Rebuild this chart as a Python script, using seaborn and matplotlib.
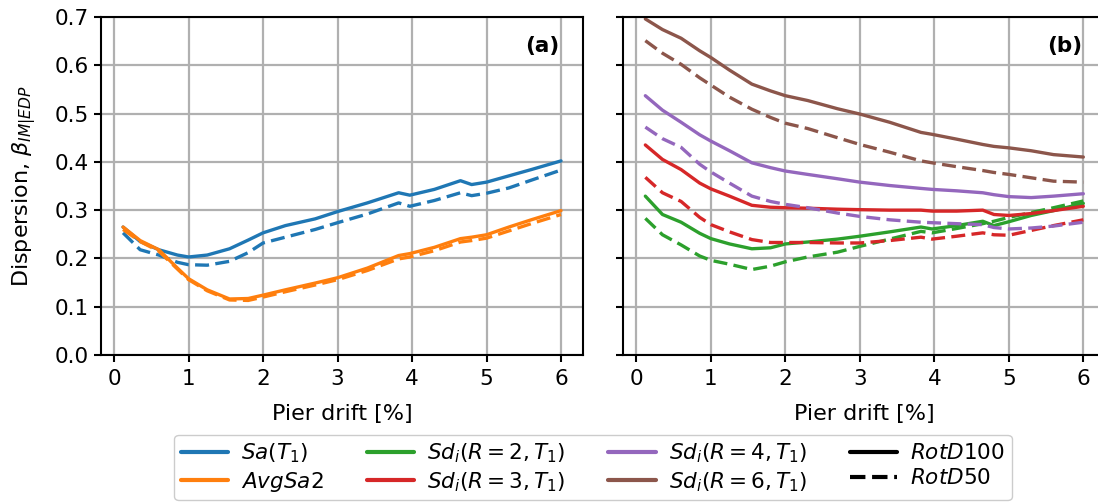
import numpy as np
import pandas as pd
import matplotlib
matplotlib.use("Agg")
import matplotlib.pyplot as plt
from matplotlib.lines import Line2D
import seaborn as sns

# ---------------- data ----------------
drift = [0.12, 0.35, 0.6, 0.85, 1.0, 1.25, 1.55, 1.8, 2.0, 2.3, 2.7, 3.0,
         3.4, 3.82, 3.97, 4.3, 4.65, 4.8, 5.0, 5.3, 5.6, 6.0]

sa_rotd100 = [0.265, 0.235, 0.218, 0.207, 0.203, 0.207, 0.220, 0.238, 0.253, 0.268, 0.282, 0.297,
              0.315, 0.336, 0.331, 0.343, 0.361, 0.353, 0.358, 0.371, 0.384, 0.402]
sa_rotd50 = [0.253, 0.218, 0.207, 0.192, 0.187, 0.186, 0.194, 0.212, 0.232, 0.244, 0.260, 0.274,
             0.292, 0.315, 0.308, 0.320, 0.336, 0.330, 0.335, 0.346, 0.362, 0.383]
avg_rotd100 = [0.265, 0.237, 0.218, 0.180, 0.158, 0.135, 0.116, 0.117, 0.124, 0.135, 0.149, 0.160,
               0.180, 0.206, 0.210, 0.223, 0.241, 0.244, 0.249, 0.265, 0.280, 0.299]
avg_rotd50 = [0.260, 0.235, 0.215, 0.178, 0.156, 0.133, 0.114, 0.113, 0.120, 0.131, 0.145, 0.156,
              0.175, 0.199, 0.203, 0.216, 0.234, 0.237, 0.242, 0.257, 0.272, 0.291]

r2_rotd100 = [0.329, 0.291, 0.275, 0.252, 0.241, 0.230, 0.220, 0.222, 0.230, 0.234, 0.240, 0.246,
              0.255, 0.265, 0.261, 0.268, 0.277, 0.268, 0.276, 0.289, 0.299, 0.314]
r2_rotd50 = [0.283, 0.249, 0.228, 0.205, 0.196, 0.188, 0.177, 0.184, 0.193, 0.203, 0.213, 0.225,
             0.240, 0.256, 0.253, 0.262, 0.272, 0.277, 0.285, 0.295, 0.305, 0.319]
r3_rotd100 = [0.435, 0.405, 0.384, 0.356, 0.344, 0.329, 0.310, 0.306, 0.305, 0.304, 0.302, 0.301,
              0.300, 0.300, 0.298, 0.298, 0.300, 0.291, 0.289, 0.293, 0.299, 0.308]
r3_rotd50 = [0.368, 0.336, 0.318, 0.285, 0.270, 0.255, 0.239, 0.233, 0.233, 0.233, 0.232, 0.232,
             0.237, 0.244, 0.240, 0.246, 0.253, 0.249, 0.248, 0.258, 0.268, 0.280]
r4_rotd100 = [0.537, 0.507, 0.482, 0.456, 0.443, 0.423, 0.398, 0.388, 0.381, 0.374, 0.365, 0.358,
              0.351, 0.345, 0.343, 0.340, 0.336, 0.332, 0.328, 0.326, 0.329, 0.334]
r4_rotd50 = [0.472, 0.448, 0.430, 0.395, 0.379, 0.356, 0.329, 0.318, 0.312, 0.305, 0.294, 0.287,
             0.280, 0.275, 0.274, 0.272, 0.270, 0.264, 0.261, 0.263, 0.267, 0.275]
r6_rotd100 = [0.696, 0.674, 0.656, 0.630, 0.616, 0.590, 0.561, 0.547, 0.537, 0.527, 0.510, 0.499,
              0.482, 0.461, 0.457, 0.447, 0.436, 0.432, 0.429, 0.423, 0.415, 0.410]
r6_rotd50 = [0.651, 0.625, 0.602, 0.574, 0.559, 0.534, 0.509, 0.492, 0.480, 0.469, 0.450, 0.436,
             0.420, 0.402, 0.398, 0.390, 0.382, 0.378, 0.374, 0.367, 0.360, 0.358]

im_labels = [r'$Sa(T_1)$', r'$AvgSa2$', r'$Sd_i(R=2,T_1)$', r'$Sd_i(R=3,T_1)$',
             r'$Sd_i(R=4,T_1)$', r'$Sd_i(R=6,T_1)$']
comp_labels = ['RotD100', 'RotD50']
colors = ['#1f77b4', '#ff7f0e', '#2ca02c', '#d62728', '#9467bd', '#8c564b']

panel_a = {im_labels[0]: (sa_rotd100, sa_rotd50), im_labels[1]: (avg_rotd100, avg_rotd50)}
panel_b = {im_labels[2]: (r2_rotd100, r2_rotd50), im_labels[3]: (r3_rotd100, r3_rotd50),
           im_labels[4]: (r4_rotd100, r4_rotd50), im_labels[5]: (r6_rotd100, r6_rotd50)}


def to_long(panel):
    rows = []
    for im, (v100, v50) in panel.items():
        for comp, vals in zip(comp_labels, (v100, v50)):
            for x, y in zip(drift, vals):
                rows.append({'drift': x, 'disp': y, 'IM': im, 'comp': comp})
    return pd.DataFrame(rows)


df_a = to_long(panel_a)
df_b = to_long(panel_b)

# ---------------- style ----------------
sns.set_theme(style='ticks', rc={
    'axes.grid': True,
    'grid.color': '#b0b0b0',
    'grid.linewidth': 1.6,
    'axes.edgecolor': 'black',
    'axes.linewidth': 1.5,
    'xtick.major.width': 1.5,
    'ytick.major.width': 1.5,
    'xtick.major.size': 5,
    'ytick.major.size': 5,
    'xtick.major.pad': 5,
    'xtick.color': 'black',
    'ytick.color': 'black',
    'xtick.labelsize': 15.5,
    'ytick.labelsize': 15.5,
    'axes.labelsize': 16,
    'axes.labelcolor': 'black',
    'text.color': 'black',
})
plt.rcParams['font.family'] = ['DejaVu Sans']
plt.rcParams['mathtext.fontset'] = 'dejavusans'

W, H = 1098, 503
fig = plt.figure(figsize=(W / 100, H / 100), dpi=100)
ax1 = fig.add_axes([100.7 / W, (H - 355) / H, 482.3 / W, 338 / H])
ax2 = fig.add_axes([623.0 / W, (H - 355) / H, 482.3 / W, 338 / H])

pal = dict(zip(im_labels, colors))
dashes = {'RotD100': '', 'RotD50': (4.2, 1.9)}

sns.lineplot(data=df_a, x='drift', y='disp', hue='IM', style='comp', palette=pal,
             dashes=dashes, linewidth=2.4, legend=False, ax=ax1, estimator=None, sort=True)
sns.lineplot(data=df_b, x='drift', y='disp', hue='IM', style='comp', palette=pal,
             dashes=dashes, linewidth=2.4, legend=False, ax=ax2, estimator=None, sort=True)

for ax, tag in ((ax1, '(a)'), (ax2, '(b)')):
    ax.set_xlim(-0.18, 6.295)
    ax.set_ylim(0, 0.7)
    ax.set_xticks(range(0, 7))
    ax.set_yticks(np.arange(0, 0.71, 0.1))
    ax.set_xlabel('Pier drift [%]', labelpad=11)
    ax.text(0.952, 0.915, tag, transform=ax.transAxes, ha='right', va='center',
            fontsize=15.5, fontweight='bold')
    for s in ax.spines.values():
        s.set_visible(True)
        s.set_color('black')

ax1.yaxis.set_major_formatter(matplotlib.ticker.FormatStrFormatter('%.1f'))
ax1.set_ylabel(r'Dispersion, $\beta_{IM|EDP}$', labelpad=12)
ax2.set_ylabel('')
ax2.tick_params(labelleft=False)

handles = []
for lab, c in zip(im_labels, colors):
    handles.append(Line2D([], [], color=c, lw=3, label=lab))
handles.append(Line2D([], [], color='black', lw=3, label=r'$RotD100$'))
handles.append(Line2D([], [], color='black', lw=3, ls='--', label=r'$RotD50$'))

fig.legend(handles=handles, ncol=4, loc='lower center', bbox_to_anchor=(0.54, 0.005),
           fontsize=15.5, frameon=True, edgecolor='#cccccc', framealpha=1,
           handlelength=2.2, columnspacing=2.0, borderpad=0.3, labelspacing=0.25,
           handletextpad=0.6, borderaxespad=0)

fig.savefig('out.png', dpi=100)
